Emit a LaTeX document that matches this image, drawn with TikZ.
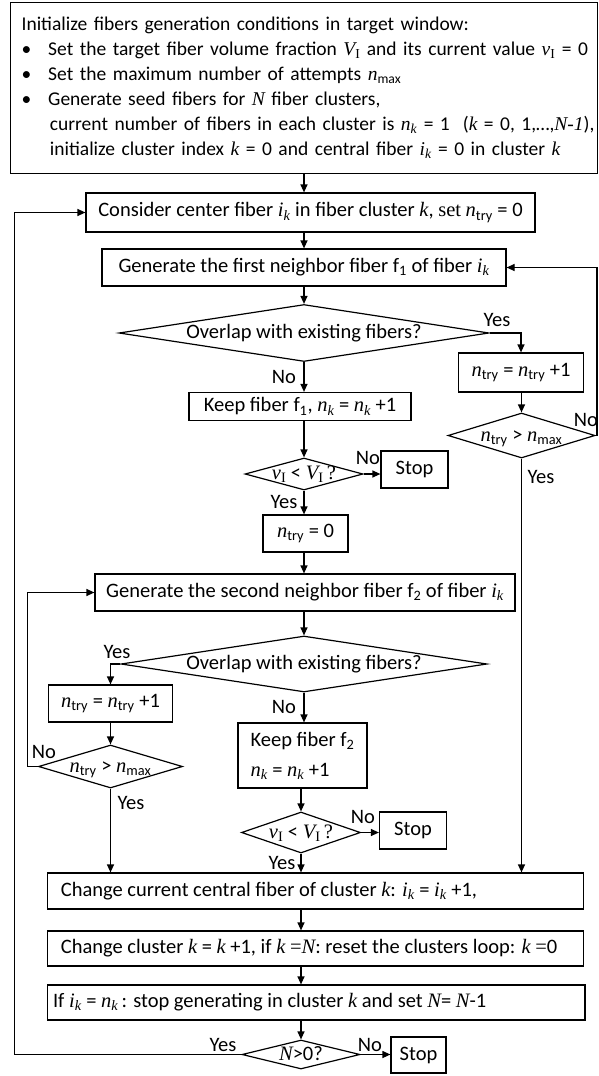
\documentclass[tikz,border=0pt]{standalone}
\usepackage{fontspec}
\setmainfont{Carlito}
\newfontfamily\tms{Liberation Serif}
\usepackage{tikz}
\usetikzlibrary{arrows.meta,shapes.geometric}
\newcommand{\vr}[1]{{\tms\itshape #1}}
\newcommand{\ik}{\vr{i}\textsubscript{\vr{k}}}
\newcommand{\nk}{\vr{n}\textsubscript{\vr{k}}}
\newcommand{\ntry}{\vr{n}\textsubscript{try}}
\newcommand{\nmax}{\vr{n}\textsubscript{max}}
\newcommand{\VI}{\vr{V}\textsubscript{\tms I}}
\newcommand{\vI}{\vr{v}\textsubscript{\tms I}}
\newcommand{\bul}{\makebox[26.6pt][l]{\textbullet}}

\begin{document}
\begin{tikzpicture}[x=1pt, y=-1pt, line width=1.2pt,
  font=\fontsize{20.5}{25}\selectfont,
  box/.style={draw, inner sep=0pt},
  cond/.style={draw, diamond, inner sep=0pt, text height=11pt, text depth=0pt},
  arr/.style={-{Stealth[length=8pt, width=7pt, inset=0pt]}},
  lbl/.style={inner sep=0pt}]
\useasboundingbox (0,0) rectangle (598,1076);
% Initialisation
\node[box, anchor=north west, align=left, text width=565pt, inner xsep=11pt, minimum height=171pt,
  font=\fontsize{19.5}{25}\selectfont] (init) at (10,2)
  {\mbox{Initialize fibers generation conditions in target window:}\\
   \mbox{\bul Set the target fiber volume fraction \VI{} and its current value \vI{} = 0}\\
   \mbox{\bul Set the maximum number of attempts \nmax}\\
   \mbox{\bul Generate seed fibers for \vr{N} fiber clusters,}\\
   \mbox{\hspace*{28.3pt}current number of fibers in each cluster is \nk{} = 1\ \ (\vr{k} = 0, 1,\ldots,\vr{N-1}),}\\
   \mbox{\hspace*{28.3pt}initialize cluster index \vr{k} = 0 and central fiber \ik{} = 0 in cluster \vr{k}}};
% First neighbor
\node[box, minimum width=449pt, minimum height=39pt] (consider) at (310.5,212.5) {Consider center fiber \ik{} in fiber cluster \vr{k}, {\tms set} \ntry{} = 0};
\node[box, minimum width=404pt, minimum height=37pt] (gen1) at (304,267.5) {Generate the first neighbor fiber f\textsubscript{1} of fiber \ik};
\node[cond, minimum width=370pt, minimum height=57pt, aspect=6.5] (ovl1) at (304,333) {Overlap with existing fibers?};
\node[box, minimum width=222pt, minimum height=28pt] (keep1) at (300,406.5) {Keep fiber f\textsubscript{1}, \nk{} = \nk{} +1};
\node[cond, minimum width=118pt, minimum height=32pt, aspect=3.7] (vv1) at (304,474) {\vI{} < \VI{}\,{\tms ?}};
\node[box, minimum width=67pt, minimum height=37pt] (stop1) at (414.5,469.5) {Stop};
\node[box, minimum width=85pt, minimum height=37pt] (ntry0) at (305.5,533.5) {\ntry{} = 0};
\node[box, minimum width=125pt, minimum height=39pt] (ntryR) at (521,372.5) {\ntry{} = \ntry{} +1};
\node[cond, minimum width=147pt, minimum height=45pt, aspect=3.27] (cmpR) at (521.5,435.5) {\ntry{} > \nmax};
% Second neighbor
\node[box, minimum width=420pt, minimum height=37pt] (gen2) at (305,592.5) {Generate the second neighbor fiber f\textsubscript{2} of fiber \ik};
\node[cond, minimum width=366pt, minimum height=56pt, aspect=6.5] (ovl2) at (304,664) {Overlap with existing fibers?};
\node[box, minimum width=124pt, minimum height=37pt] (ntryL) at (110.5,703.5) {\ntry{} = \ntry{} +1};
\node[cond, minimum width=144pt, minimum height=43pt, aspect=3.35] (cmpL) at (110.5,766.5) {\ntry{} > \nmax};
\node[box, align=left, minimum width=129pt, minimum height=65pt] (keep2) at (302.5,755.5) {Keep fiber f\textsubscript{2}\\[5pt]\nk{} = \nk{} +1};
\node[cond, minimum width=119pt, minimum height=41pt, aspect=2.9] (vv2) at (301,832.5) {\vI{} < \VI{}\,{\tms ?}};
\node[box, minimum width=67pt, minimum height=37pt] (stop2) at (413,830.5) {Stop};
% Cluster update
\node[box, inner xsep=13.3pt, minimum height=36pt] (change) at (315.6,891) {\makebox[509.4pt][l]{Change current central fiber of cluster \vr{k}: \ik{} = \ik{} +1,}};
\node[box, inner xsep=13.3pt, minimum height=35pt] (cluster) at (315.6,948.5) {\makebox[509.4pt][l]{Change cluster \vr{k} = \vr{k} +1, if \vr{k} {\tms =}\vr{N}: reset the clusters loop: \vr{k} {\tms =}0}};
\node[box, inner xsep=5.3pt, minimum height=35pt] (ifbox) at (316.3,1002.5) {\makebox[526.6pt][l]{If \ik{} = \nk{}\,: stop generating in cluster \vr{k} and set \vr{N}= \vr{N}-1}};
\node[cond, minimum width=118pt, minimum height=29pt, aspect=4.07] (npos) at (301,1054.5) {\vr{N}>0?};
\node[box, minimum width=55pt, minimum height=36pt] (stop3) at (418.5,1055) {Stop};
% Corners of the loops
\coordinate (col) at (304,0);
\coordinate (col2) at (301,0);
\coordinate (rEdge) at (597,435.5);
\coordinate (lIn) at (27.3,766.5);
\coordinate (lOut) at (14.3,1054.5);
% Arrows
\draw[arr] (init.south -| col) -- (consider.north -| col);
\draw[arr] (consider.south -| col) -- (gen1.north -| col);
\draw[arr] (gen1.south -| col) -- (ovl1.north);
\draw[arr] (ovl1.south) -- (keep1.north -| col);
\draw[arr] (keep1.south -| col) -- (vv1.north);
\draw[arr] (vv1.east) -- (vv1.east -| stop1.west);
\draw[arr] (vv1.south) -- (ntry0.north -| col);
\draw[arr] (ntry0.south -| col) -- (gen2.north -| col);
\draw[arr] (ovl1.east) -| (ntryR.north);
\draw[arr] (ntryR.south -| cmpR.north) -- (cmpR.north);
\draw[arr] (cmpR.east) -- (rEdge) |- (gen1.east);
\draw[arr] (cmpR.south) -- (cmpR.south |- change.north);
\draw[arr] (gen2.south -| col) -- (ovl2.north);
\draw[arr] (ovl2.south) -- (keep2.north -| col);
\draw[arr] (ovl2.west) -| (ntryL.north);
\draw[arr] (ntryL.south) -- (cmpL.north);
\draw[arr] (cmpL.west) -- (lIn) |- (gen2.west);
\draw[arr] (cmpL.south) -- (cmpL.south |- change.north);
\draw[arr] (keep2.south -| vv2.north) -- (vv2.north);
\draw[arr] (vv2.east) -- (vv2.east -| stop2.west);
\draw[arr] (vv2.south) -- (vv2.south |- change.north);
\draw[arr] (change.south -| col2) -- (cluster.north -| col2);
\draw[arr] (cluster.south -| col2) -- (ifbox.north -| col2);
\draw[arr] (ifbox.south -| col2) -- (npos.north);
\draw[arr] (npos.east) -- (npos.east -| stop3.west);
\draw[arr] (npos.west) -- (lOut) |- (consider.west);
% Labels
\node[lbl] (yes1) at (497,320) {Yes};
\node[lbl] (no1) at (284,377) {No};
\node[lbl] (noR) at (586,420) {No};
\node[lbl] (yesR) at (541,477) {Yes};
\node[lbl] (no2) at (368,458) {No};
\node[lbl] (yes2) at (284,502) {Yes};
\node[lbl] (yes3) at (117,652) {Yes};
\node[lbl] (no3) at (284,707) {No};
\node[lbl] (noL) at (44,752) {No};
\node[lbl] (yesL) at (131,803) {Yes};
\node[lbl] (no4) at (363,817) {No};
\node[lbl] (yes4) at (282,863) {Yes};
\node[lbl] (yes5) at (223,1045) {Yes};
\node[lbl] (no5) at (370,1045) {No};
\end{tikzpicture}
\end{document}
